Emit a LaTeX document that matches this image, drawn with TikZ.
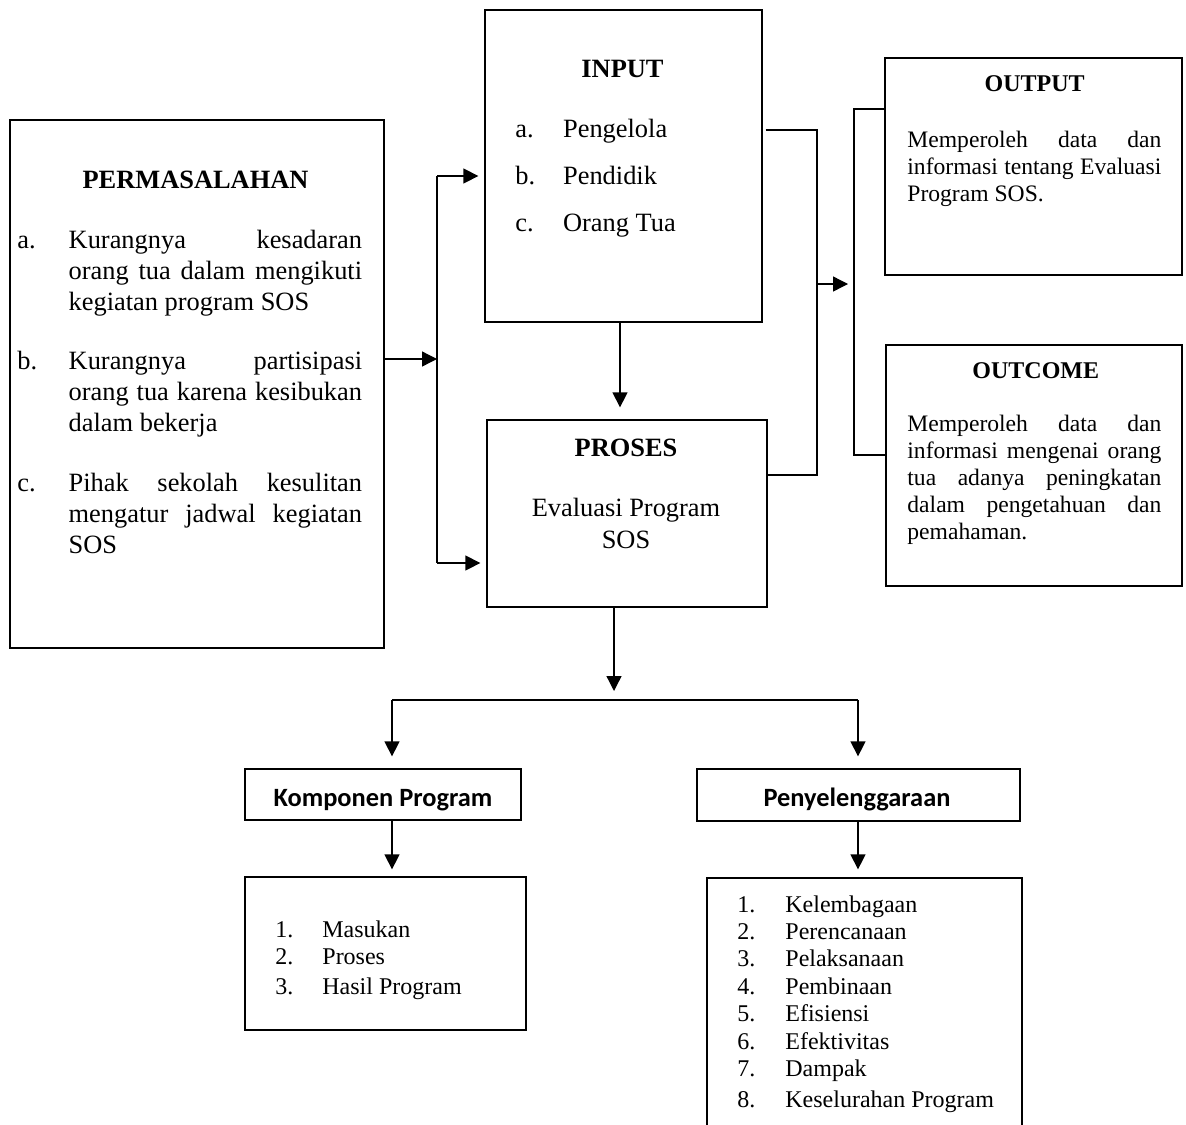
\documentclass[tikz,border=0pt]{standalone}
\usepackage{fontspec}
\setmainfont{Liberation Serif}
\newfontfamily\calibrifont{Carlito}
\usetikzlibrary{arrows.meta,positioning}
\hyphenpenalty=10000
\exhyphenpenalty=10000

\tikzset{
    box/.style={draw, line width=0.65pt, inner sep=0pt},
    wire/.style={line width=0.65pt},
    arr/.style={line width=0.65pt, -{Triangle[length=7.5pt,width=7.5pt]}},
    big/.style={inner sep=0pt, font=\fontsize{13.2}{15.5}\selectfont},
    small/.style={inner sep=0pt, font=\fontsize{12}{13.5}\selectfont},
    note/.style={inner sep=0pt, font=\fontsize{11.8}{13.5}\selectfont},
    title/.style={big, anchor=base, font=\fontsize{13.2}{15.5}\selectfont\bfseries},
    smalltitle/.style={small, anchor=base, font=\fontsize{12}{13.5}\selectfont\bfseries},
    sanstitle/.style={inner sep=0pt, anchor=base, font=\fontsize{13.2}{15.5}\calibrifont\bfseries},
    para/.style={anchor=north west, align=justify},
}

\begin{document}
\begin{tikzpicture}[x=0.5pt, y=-0.5pt]
    \clip (0,0) rectangle (1186,1124);

    % Box - Permasalahan
    \node[box, minimum width=187pt, minimum height=264pt] (perm) at (197,384) {};
    \node[title] (permT) at (195.5,188) {PERMASALAHAN};
    \node[big, anchor=base west] (permA) at (17,248) {a.};
    \node[big, para, text width=146.7pt] (permAt) at (68.3,226.3)
        {\strut Kurangnya kesadaran\linebreak orang tua dalam mengikuti\linebreak kegiatan program SOS};
    \node[big, anchor=base west] (permB) at (17,369) {b.};
    \node[big, para, text width=146.7pt] (permBt) at (68.3,347.3)
        {\strut Kurangnya partisipasi\linebreak orang tua karena kesibukan\linebreak dalam bekerja};
    \node[big, anchor=base west] (permC) at (17,491) {c.};
    \node[big, para, text width=146.7pt] (permCt) at (68.3,469.3)
        {\strut Pihak sekolah kesulitan\linebreak mengatur jadwal kegiatan\linebreak SOS};

    % Box - Input
    \node[box, minimum width=138.5pt, minimum height=156pt] (input) at (623.5,166) {};
    \node[title] (inputT) at (622.5,77) {INPUT};
    \node[big, anchor=base west] (inA) at (515,137) {a.};
    \node[big, anchor=base west] (inAt) at (562.7,137) {Pengelola};
    \node[big, anchor=base west] (inB) at (515,184) {b.};
    \node[big, anchor=base west] (inBt) at (562.7,184) {Pendidik};
    \node[big, anchor=base west] (inC) at (515,231) {c.};
    \node[big, anchor=base west] (inCt) at (562.7,231) {Orang Tua};

    % Box - Proses
    \node[box, minimum width=140pt, minimum height=93.5pt] (proses) at (627,513.5) {};
    \node[title] (prosesT) at (626,456) {PROSES};
    \node[big, anchor=base] (prosesA) at (626,516) {Evaluasi Program};
    \node[big, anchor=base] (prosesB) at (626,548) {SOS};

    % Box - Output
    \node[box, minimum width=148.5pt, minimum height=108.5pt] (output) at (1033.5,166.5) {};
    \node[smalltitle] (outputT) at (1034.7,91) {OUTPUT};
    \node[note, para, text width=127pt] (outputA) at (907,128.1)
        {\strut Memperoleh data dan\linebreak informasi tentang Evaluasi\linebreak Program SOS.};

    % Box - Outcome
    \node[box, minimum width=148pt, minimum height=120.5pt] (outcome) at (1034,465.5) {};
    \node[smalltitle] (outcomeT) at (1035.8,378) {OUTCOME};
    \node[note, para, text width=127pt] (outcomeA) at (907,412.1)
        {\strut Memperoleh data dan\linebreak informasi mengenai orang\linebreak tua adanya peningkatan\linebreak dalam pengetahuan dan\linebreak pemahaman.};

    % Box - Komponen Program
    \node[box, minimum width=138pt, minimum height=25.5pt] (komp) at (383,794.5) {};
    \node[sanstitle] (kompT) at (383,806) {Komponen Program};
    \node[box, minimum width=140.5pt, minimum height=76.5pt] (listL) at (385.5,953.5) {};
    \node[small, anchor=base west] (l1) at (275,937) {1.};
    \node[small, anchor=base west] (l1t) at (322,937) {Masukan};
    \node[small, anchor=base west] (l2) at (275,964) {2.};
    \node[small, anchor=base west] (l2t) at (322,964) {Proses};
    \node[small, anchor=base west] (l3) at (275,994) {3.};
    \node[small, anchor=base west] (l3t) at (322,994) {Hasil Program};

    % Box - Penyelenggaraan
    \node[box, minimum width=161.5pt, minimum height=26pt] (penye) at (858.5,795) {};
    \node[sanstitle] (penyeT) at (857,806) {Penyelenggaraan};
    \node[box, minimum width=157.5pt, minimum height=136pt] (listR) at (864.5,1014) {};
    \node[small, anchor=base west] (r1) at (737,912) {1.};
    \node[small, anchor=base west] (r1t) at (785,912) {Kelembagaan};
    \node[small, anchor=base west] (r2) at (737,939) {2.};
    \node[small, anchor=base west] (r2t) at (785,939) {Perencanaan};
    \node[small, anchor=base west] (r3) at (737,966) {3.};
    \node[small, anchor=base west] (r3t) at (785,966) {Pelaksanaan};
    \node[small, anchor=base west] (r4) at (737,994) {4.};
    \node[small, anchor=base west] (r4t) at (785,994) {Pembinaan};
    \node[small, anchor=base west] (r5) at (737,1021) {5.};
    \node[small, anchor=base west] (r5t) at (785,1021) {Efisiensi};
    \node[small, anchor=base west] (r6) at (737,1049) {6.};
    \node[small, anchor=base west] (r6t) at (785,1049) {Efektivitas};
    \node[small, anchor=base west] (r7) at (737,1076) {7.};
    \node[small, anchor=base west] (r7t) at (785,1076) {Dampak};
    \node[small, anchor=base west] (r8) at (737,1107) {8.};
    \node[small, anchor=base west] (r8t) at (785,1107) {Keselurahan Program};

    % Left fork into Input and Proses
    \coordinate (jmid) at (437,359);
    \coordinate (jtop) at (437,176);
    \coordinate (jbot) at (437,563);
    \draw[arr] (perm.east |- jmid) -- (jmid);
    \draw[wire] (jtop) -- (jbot);
    \draw[arr, shorten >=3pt] (jtop) -- (jtop -| input.west);
    \draw[arr, shorten >=3pt] (jbot) -- (jbot -| proses.west);

    % Input to Proses
    \coordinate (ip) at (620,0);
    \draw[arr, shorten >=6pt] (ip |- input.south) -- (ip |- proses.north);

    % Right bracket into Output and Outcome
    \coordinate (rtop) at (817,130);
    \coordinate (rbot) at (817,475);
    \coordinate (rmid) at (817,284);
    \coordinate (btop) at (854,109);
    \coordinate (bbot) at (854,455);
    \coordinate (bmid) at (854,284);
    \draw[wire] ([xshift=1.5pt]input.east |- rtop) -- (rtop) -- (rbot) -- (proses.east |- rbot);
    \draw[arr, shorten >=3pt] (rmid) -- (bmid);
    \draw[wire] (output.west |- btop) -- (btop) -- (bbot) -- (outcome.west |- bbot);

    % Proses down to the two branches
    \coordinate (fk) at (614,700);
    \coordinate (fkL) at (392,700);
    \coordinate (fkR) at (858,700);
    \draw[arr, shorten >=4.5pt] (fk |- proses.south) -- (fk);
    \draw[wire] (fkL) -- (fkR);
    \draw[arr, shorten >=6pt] (fkL) -- (fkL |- komp.north);
    \draw[arr, shorten >=6pt] (fkR) -- (fkR |- penye.north);
    \draw[arr, shorten >=3.5pt] (fkL |- komp.south) -- (fkL |- listL.north);
    \draw[arr, shorten >=4pt] (fkR |- penye.south) -- (fkR |- listR.north);
\end{tikzpicture}
\end{document}
